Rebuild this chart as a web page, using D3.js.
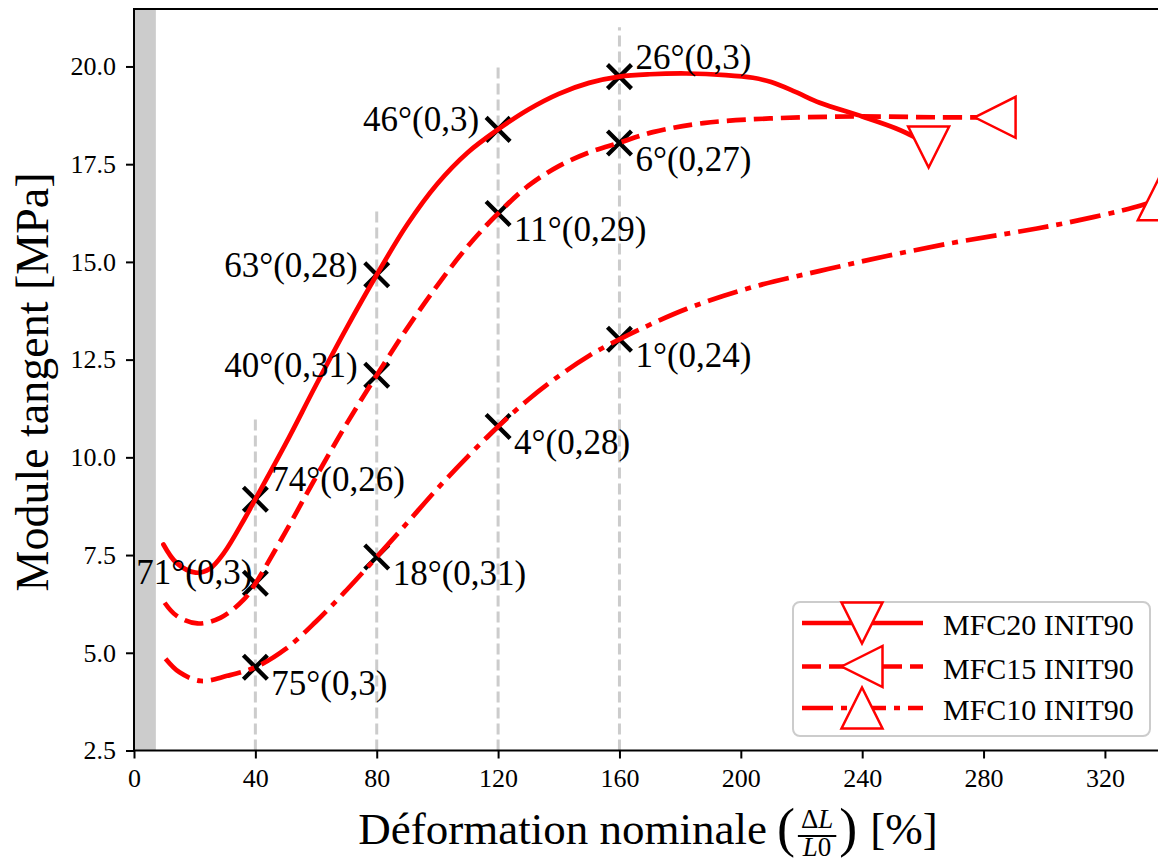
<!DOCTYPE html>
<html><head><meta charset="utf-8">
<script src="https://cdn.jsdelivr.net/npm/d3@7"></script>
<style>
body{margin:0;background:#fff;overflow:hidden}
svg{display:block}
text{font-family:"Liberation Serif","Times New Roman",serif;fill:#000}
</style>
</head><body>
<svg id="chart" width="1158" height="861"></svg>
<script>
// ---------- data ----------
const xTickValues = [0, 40, 80, 120, 160, 200, 240, 280, 320];
const yTickValues = [2.5, 5, 7.5, 10, 12.5, 15, 17.5, 20];
const xDomain = [0, 340];
const yDomain = [2.5, 21.47];
const shadeRange = [0, 7.2];
const guideX = [40, 80, 120, 160];
const guideTop = [11.0, 16.4, 20.0, 21.0];

const seriesNames = ["MFC20 INIT90", "MFC15 INIT90", "MFC10 INIT90"];

const mfc20X = [9.7, 14, 20.3, 25, 29.7, 36.3, 40, 50, 60, 70, 80, 90, 100, 110, 120, 130, 140, 150, 160, 170, 182, 195, 204, 210, 218, 226, 240, 251, 257, 261.9];
const mfc20Y = [7.77, 7.3, 7.05, 7.15, 7.56, 8.41, 8.93, 10.35, 11.85, 13.3, 14.67, 15.95, 17.0, 17.8, 18.39, 18.9, 19.3, 19.58, 19.74, 19.8, 19.82, 19.78, 19.71, 19.6, 19.35, 19.07, 18.72, 18.42, 18.2, 17.94];

const mfc15X = [10.1, 14, 20.9, 28.6, 36.3, 40, 50, 60, 70, 80, 90, 100, 110, 120, 130, 140, 150, 160, 171, 187.6, 209.6, 237, 264.6, 283.8];
const mfc15Y = [6.28, 5.95, 5.75, 5.9, 6.37, 6.77, 8.1, 9.5, 10.85, 12.1, 13.3, 14.4, 15.4, 16.24, 16.95, 17.45, 17.8, 18.05, 18.32, 18.55, 18.67, 18.72, 18.7, 18.7];

const mfc10X = [10.4, 15, 22, 30.7, 40, 50, 60, 70, 80, 90, 100, 110, 120, 130, 140, 150, 160, 182.2, 204.1, 226.1, 248.1, 270, 289.8, 307.4, 329.4, 337.6];
const mfc10Y = [4.85, 4.5, 4.28, 4.41, 4.63, 5.1, 5.8, 6.6, 7.45, 8.32, 9.2, 10.02, 10.79, 11.48, 12.08, 12.6, 13.02, 13.8, 14.36, 14.77, 15.15, 15.49, 15.75, 16.0, 16.39, 16.59];

const markX = [40, 80, 120, 160];
const mark20Y = [8.93, 14.67, 18.39, 19.74];
const mark15Y = [6.78, 12.1, 16.24, 18.04];
const mark10Y = [4.63, 7.45, 10.79, 13.02];

const label20 = ["74°(0,26)", "63°(0,28)", "46°(0,3)", "26°(0,3)"];
const label15 = ["71°(0,3)", "40°(0,31)", "11°(0,29)", "6°(0,27)"];
const label10 = ["75°(0,3)", "18°(0,31)", "4°(0,28)", "1°(0,24)"];
const place20 = ["ur", "l", "l", "ur"];
const place15 = ["L", "l", "lr", "lr"];
const place10 = ["lr", "lr", "lr", "lr"];

// ---------- setup ----------
const svg = d3.select("#chart");
svg.append("rect").attr("width", 1158).attr("height", 861).attr("fill", "#fff");

const x = d3.scaleLinear().domain(xDomain).range([134, 1165.6]);
const y = d3.scaleLinear().domain(yDomain).range([750.5, 9]);
const RED = "#ff0000";

// shaded band
svg.append("rect")
  .attr("x", x(shadeRange[0])).attr("width", x(shadeRange[1]) - x(shadeRange[0]))
  .attr("y", y(yDomain[1])).attr("height", y(yDomain[0]) - y(yDomain[1]))
  .attr("fill", "#cccccc");

// guide lines
svg.append("g").selectAll("line").data(guideX).join("line")
  .attr("x1", d => x(d)).attr("x2", d => x(d))
  .attr("y1", y(yDomain[0])).attr("y2", (d, i) => y(guideTop[i]))
  .attr("stroke", "#cccccc").attr("stroke-width", 3).attr("stroke-dasharray", "11,5");

// X markers
const allMarks = [mark20Y, mark15Y, mark10Y];
const gx = svg.append("g");
allMarks.forEach(arr => {
  arr.forEach((v, i) => {
    const cx = x(markX[i]), cy = y(v), s = 12;
    gx.append("path")
      .attr("d", `M${cx - s},${cy - s}L${cx + s},${cy + s}M${cx - s},${cy + s}L${cx + s},${cy - s}`)
      .attr("stroke", "#000").attr("stroke-width", 4.3).attr("fill", "none");
  });
});

// curves
const dashes = [null, "19,8", "31,8,6,8"];
const triPaths = [
  "M-20.5,-20.5L20.5,-20.5L0,20.5Z", // down
  "M-20.5,0L20.5,-20.5L20.5,20.5Z",  // left
  "M0,-20.5L-20.5,20.5L20.5,20.5Z"   // up
];
const seriesX = [mfc20X, mfc15X, mfc10X];
const seriesY = [mfc20Y, mfc15Y, mfc10Y];
const line = d3.line().x(d => x(d[0])).y(d => y(d[1])).curve(d3.curveCatmullRom.alpha(0.5));
seriesX.forEach((xs, k) => {
  const pts = xs.map((v, i) => [v, seriesY[k][i]]);
  const p = svg.append("path").datum(pts).attr("d", line)
    .attr("fill", "none").attr("stroke", RED).attr("stroke-width", 4.7)
    .attr("stroke-linecap", k === 0 ? "round" : "butt");
  if (dashes[k]) p.attr("stroke-dasharray", dashes[k]);
  const last = pts[pts.length - 1];
  svg.append("path").attr("d", triPaths[k])
    .attr("transform", `translate(${x(last[0])},${y(last[1])})`)
    .attr("fill", "#fff").attr("stroke", RED).attr("stroke-width", 2.5);
});

// annotations
const offs = {ur: [16, -8, "start"], l: [-19, 2, "end"], L: [-3, 1, "end"], lr: [16, 28, "start"]};
const allLabels = [label20, label15, label10];
const allPlaces = [place20, place15, place10];
allLabels.forEach((labs, k) => {
  labs.forEach((t, i) => {
    const o = offs[allPlaces[k][i]];
    svg.append("text").attr("x", x(markX[i]) + o[0]).attr("y", y(allMarks[k][i]) + o[1])
      .attr("text-anchor", o[2]).attr("font-size", 35).text(t);
  });
});

// axes
const xAxis = svg.append("g").attr("transform", `translate(0,${y(yDomain[0])})`)
  .call(d3.axisBottom(x).tickValues(xTickValues).tickSize(8).tickPadding(10).tickSizeOuter(0));
const yAxis = svg.append("g").attr("transform", `translate(${x(0)},0)`)
  .call(d3.axisLeft(y).tickValues(yTickValues).tickFormat(d3.format(".1f")).tickSize(8).tickPadding(10).tickSizeOuter(0));
[xAxis, yAxis].forEach(g => {
  g.selectAll(".domain").remove();
  g.selectAll(".tick line").attr("stroke", "#000").attr("stroke-width", 2);
  g.selectAll(".tick text").attr("font-size", 26).attr("font-family", "Liberation Serif");
});
// spines
svg.append("rect").attr("x", x(xDomain[0])).attr("y", y(yDomain[1]))
  .attr("width", x(xDomain[1]) - x(xDomain[0])).attr("height", y(yDomain[0]) - y(yDomain[1]))
  .attr("fill", "none").attr("stroke", "#000").attr("stroke-width", 2);

// y label
svg.append("text").attr("transform", "translate(48,382) rotate(-90)")
  .attr("text-anchor", "middle").attr("font-size", 46).text("Module tangent [MPa]");

// x label with fraction
const xl = svg.append("g");
const base = 844;
const t1 = xl.append("text").attr("font-size", 45).attr("y", base).text("Déformation nominale");
const w1 = t1.node().getComputedTextLength();
const lp = xl.append("text").attr("font-size", 54).attr("y", base + 2).text("(");
const wlp = lp.node().getComputedTextLength();
const num = xl.append("text").attr("font-size", 27).attr("y", 828).attr("text-anchor", "middle");
num.append("tspan").text("Δ");
num.append("tspan").attr("font-style", "italic").text("L");
const den = xl.append("text").attr("font-size", 27).attr("y", 856).attr("text-anchor", "middle");
den.append("tspan").attr("font-style", "italic").text("L");
den.append("tspan").text("0");
const wf = Math.max(num.node().getComputedTextLength(), den.node().getComputedTextLength()) + 12;
const rp = xl.append("text").attr("font-size", 54).attr("y", base + 2).text(")");
const wrp = rp.node().getComputedTextLength();
const t2 = xl.append("text").attr("font-size", 45).attr("y", base).text("[%]");
const w2 = t2.node().getComputedTextLength();
const gapA = 10, gapB = 13;
const total = w1 + gapA + wlp + wf + wrp + gapB + w2;
let cx0 = 648 - total / 2;
t1.attr("x", cx0); cx0 += w1 + gapA;
lp.attr("x", cx0); cx0 += wlp;
num.attr("x", cx0 + wf / 2); den.attr("x", cx0 + wf / 2);
xl.append("line").attr("x1", cx0 + 3).attr("x2", cx0 + wf - 3).attr("y1", 836).attr("y2", 836)
  .attr("stroke", "#000").attr("stroke-width", 1.8);
cx0 += wf;
rp.attr("x", cx0); cx0 += wrp + gapB;
t2.attr("x", cx0);

// legend
const lg = svg.append("g");
lg.append("rect").attr("x", 793).attr("y", 602).attr("width", 357).attr("height", 134)
  .attr("rx", 7).attr("fill", "#fff").attr("fill-opacity", 0.8)
  .attr("stroke", "#cccccc").attr("stroke-width", 2);
const rowY = [623, 666.5, 708];
seriesNames.forEach((n, k) => {
  const ly = rowY[k];
  const l = lg.append("line").attr("x1", 802).attr("x2", 923).attr("y1", ly).attr("y2", ly)
    .attr("stroke", RED).attr("stroke-width", 4.7);
  if (dashes[k]) l.attr("stroke-dasharray", dashes[k]);
  lg.append("path").attr("d", triPaths[k]).attr("transform", `translate(862,${ly})`)
    .attr("fill", "#fff").attr("stroke", RED).attr("stroke-width", 2.5);
  lg.append("text").attr("x", 943).attr("y", ly + 12).attr("font-size", 30).text(n);
});
</script>
</body></html>
